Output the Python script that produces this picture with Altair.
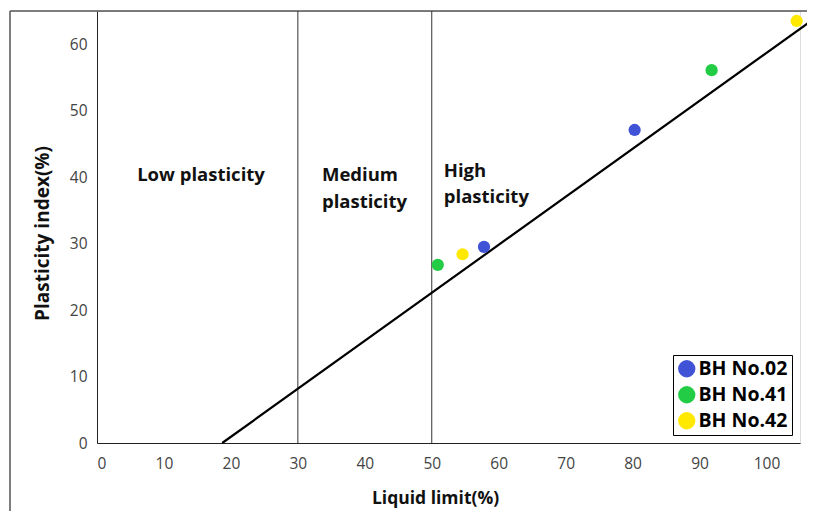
import altair as alt
import pandas as pd

# Data
series = ["BH No.02", "BH No.02", "BH No.41", "BH No.41", "BH No.42", "BH No.42"]
liquid_limit = [57.8, 80.3, 50.9, 91.8, 54.6, 104.5]
plasticity_index = [29.5, 47.1, 26.8, 56.1, 28.4, 63.5]

aline_ll = [18.7, 106.5]
aline_pi = [0, 63.4]

boundary_ll = [30, 50]

ann_text = ["Low plasticity", "Medium", "plasticity", "High", "plasticity"]
ann_ll = [6.0, 33.6, 33.6, 51.8, 51.8]
ann_pi = [40.3, 40.3, 36.2, 41.0, 37.0]

x_ticks = [0, 10, 20, 30, 40, 50, 60, 70, 80, 90, 100]
y_ticks = [0, 10, 20, 30, 40, 50, 60]

colors = ["#4052d6", "#22cc44", "#ffe900"]

pts = pd.DataFrame({"series": series, "ll": liquid_limit, "pi": plasticity_index})
aline = pd.DataFrame({"ll": aline_ll, "pi": aline_pi})
bounds = pd.DataFrame({"ll": boundary_ll})
ann = pd.DataFrame({"t": ann_text, "ll": ann_ll, "pi": ann_pi})

FONT = "Open Sans"
xscale = alt.Scale(domain=[0, 105], nice=False, zero=True)
yscale = alt.Scale(domain=[0, 65], nice=False, zero=True)

xaxis = alt.Axis(values=x_ticks, grid=False, ticks=False, domainColor="#222",
                 labelFontSize=15.5, labelColor="#444", labelPadding=13,
                 title="Liquid limit(%)", titleFontSize=17.5, titleFontWeight="bold",
                 titleColor="#111", titleX=338, titleY=55, titleBaseline="middle",
                 labelFont=FONT, titleFont=FONT)
yaxis = alt.Axis(values=y_ticks, grid=False, ticks=False, domainColor="#222",
                 labelFontSize=15.5, labelColor="#444", labelPadding=10,
                 title="Plasticity index(%)", titleFontSize=19, titleFontWeight="bold",
                 titleColor="#111", titleX=-55, titleY=222, titleBaseline="middle",
                 labelFont=FONT, titleFont=FONT)

base_x = alt.X("ll:Q", scale=xscale, axis=xaxis)
base_y = alt.Y("pi:Q", scale=yscale, axis=yaxis)

vlines = alt.Chart(bounds).mark_rule(color="#333", strokeWidth=1).encode(
    x=alt.X("ll:Q", scale=xscale, axis=xaxis),
    y=alt.value(0), y2=alt.value(432))

line = alt.Chart(aline).mark_line(color="#000", strokeWidth=2.2, clip=False).encode(
    x=base_x, y=base_y)

points = alt.Chart(pts).mark_circle(size=150, opacity=1).encode(
    x=base_x, y=base_y,
    color=alt.Color("series:N", scale=alt.Scale(domain=["BH No.02", "BH No.41", "BH No.42"], range=colors),
                    legend=alt.Legend(title=None, orient="none", legendX=576, legendY=344,
                                      symbolSize=300, symbolType="circle", symbolStrokeWidth=0,
                                      labelFontSize=19.5, labelFontWeight="bold", labelColor="#000",
                                      labelFont=FONT, strokeColor="#000", fillColor="#fff",
                                      padding=4, rowPadding=5, labelOffset=2)))

texts = alt.Chart(ann).mark_text(align="left", baseline="middle", fontSize=18.5,
                                 fontWeight="bold", font=FONT, color="#111").encode(
    x=base_x, y=base_y, text="t:N")

frame_left = alt.Chart(bounds).mark_rule(color="#555", strokeWidth=1).encode(
    x=alt.value(-87), y=alt.value(0), y2=alt.value(520))
frame_top = alt.Chart(bounds).mark_rule(color="#555", strokeWidth=1).encode(
    x=alt.value(-87), x2=alt.value(720), y=alt.value(0))

chart = alt.layer(frame_left, frame_top, vlines, line, texts, points).properties(
    width=703, height=432,
    autosize=alt.AutoSizeParams(type="none"),
    padding={"left": 89, "top": 3, "right": 7, "bottom": 68},
).configure_view(stroke=None).configure(font=FONT)

chart.save("out.html", embed_options={"renderer": "svg", "actions": False})
